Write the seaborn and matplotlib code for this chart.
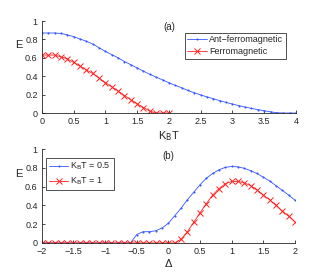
import numpy as np
import pandas as pd
import seaborn as sns
import matplotlib.pyplot as plt

# (a) E vs K_B T
kt = np.round(np.arange(0, 4.01, 0.1), 1)
e_af = [0.87, 0.87, 0.87, 0.865, 0.85, 0.83, 0.805, 0.78, 0.75, 0.71,
        0.67, 0.635, 0.60, 0.56, 0.525, 0.49, 0.455, 0.42, 0.39, 0.36,
        0.33, 0.30, 0.275, 0.245, 0.22, 0.197, 0.175, 0.155, 0.135, 0.115,
        0.098, 0.08, 0.065, 0.05, 0.037, 0.025, 0.013, 0.003, 0.0, 0.0, 0.0]
kt_f = np.round(np.arange(0, 2.01, 0.1), 1)
e_f = [0.63, 0.63, 0.63, 0.61, 0.59, 0.55, 0.51, 0.47, 0.43, 0.38,
       0.33, 0.285, 0.24, 0.19, 0.145, 0.10, 0.06, 0.02, 0.0, 0.0, 0.0]

# (b) E vs Delta
delta = np.round(np.arange(-2, 2.01, 0.1), 1)
e_05 = [0]*15 + [0.09, 0.12, 0.12, 0.13, 0.16, 0.21, 0.29, 0.37, 0.46,
                 0.54, 0.62, 0.69, 0.74, 0.78, 0.805, 0.815, 0.81, 0.795, 0.77,
                 0.74, 0.70, 0.66, 0.61, 0.56, 0.51, 0.455]
e_1 = [0]*22 + [0.04, 0.12, 0.22, 0.32, 0.42, 0.51, 0.58, 0.63, 0.655,
                0.655, 0.64, 0.61, 0.565, 0.51, 0.46, 0.40, 0.34, 0.285, 0.225]

sns.set_style("ticks")
plt.rcParams['font.family'] = ['Liberation Sans', 'DejaVu Sans']
plt.rcParams['xtick.direction'] = 'in'
plt.rcParams['ytick.direction'] = 'in'

BLUE = '#3355ff'
RED = '#ff2222'
blue_kw = dict(color=BLUE, marker='.', markersize=3, linewidth=0.6,
               markeredgewidth=0, markerfacecolor=BLUE)
red_kw = dict(color=RED, marker='x', markersize=4, linewidth=0.6,
              markeredgewidth=0.7, markeredgecolor=RED)

fig = plt.figure(figsize=(3.27, 2.73), dpi=100)
ax1 = fig.add_axes([0.128, 0.586, 0.777, 0.337])
ax2 = fig.add_axes([0.128, 0.110, 0.774, 0.344])

sns.lineplot(x=kt, y=e_af, ax=ax1, label='Ant\u2212ferromagnetic', **blue_kw)
sns.lineplot(x=kt_f, y=e_f, ax=ax1, label='Ferromagnetic', **red_kw)
ax1.set_xlim(0, 4)
ax1.set_ylim(0, 1)
ax1.set_xticks(np.arange(0, 4.01, 0.5))
ax1.set_xticklabels(['0', '0.5', '1', '1.5', '2', '2.5', '3', '3.5', '4'])
ax1.set_yticks(np.arange(0, 1.01, 0.2))
ax1.set_yticklabels(['0', '0.2', '0.4', '0.6', '0.8', '1'])
ax1.set_xlabel(r'K$_\mathrm{B}$T', fontsize=8)
ax1.set_ylabel('E', fontsize=8, rotation=0)
ax1.yaxis.set_label_coords(-0.09, 0.68)
ax1.xaxis.set_label_coords(0.5, -0.18)
ax1.text(0.5, 0.94, '(a)', transform=ax1.transAxes, ha='center', va='center', fontsize=7)
leg1 = ax1.legend(loc='upper right', bbox_to_anchor=(0.96, 0.875), fontsize=6.5,
                  frameon=True, fancybox=False, borderpad=0.3, labelspacing=0.3,
                  handlelength=2.2, handletextpad=0.2, borderaxespad=0)
leg1.get_frame().set_edgecolor('black')
leg1.get_frame().set_linewidth(0.6)

sns.lineplot(x=delta, y=e_05, ax=ax2, label=r'K$_\mathrm{B}$T = 0.5', **blue_kw)
sns.lineplot(x=delta, y=e_1, ax=ax2, label=r'K$_\mathrm{B}$T = 1', **red_kw)
ax2.set_xlim(-2, 2)
ax2.set_ylim(0, 1)
ax2.set_xticks(np.arange(-2, 2.01, 0.5))
ax2.set_xticklabels(['\u22122', '\u22121.5', '\u22121', '\u22120.5', '0', '0.5', '1', '1.5', '2'])
ax2.set_yticks(np.arange(0, 1.01, 0.2))
ax2.set_yticklabels(['0', '0.2', '0.4', '0.6', '0.8', '1'])
ax2.set_xlabel('\u0394', fontsize=8)
ax2.set_ylabel('E', fontsize=8, rotation=0)
ax2.yaxis.set_label_coords(-0.09, 0.68)
ax2.xaxis.set_label_coords(0.5, -0.17)
ax2.text(0.5, 0.93, '(b)', transform=ax2.transAxes, ha='center', va='center', fontsize=7)
leg2 = ax2.legend(loc='upper left', bbox_to_anchor=(0.016, 0.905), fontsize=6.5,
                  frameon=True, fancybox=False, borderpad=0.3, labelspacing=0.4,
                  handlelength=2.2, handletextpad=0.2, borderaxespad=0)
leg2.get_frame().set_edgecolor('black')
leg2.get_frame().set_linewidth(0.6)

for ax in (ax1, ax2):
    sns.despine(ax=ax)
    ax.tick_params(labelsize=6.5, length=2, width=0.6)
    ax.tick_params(axis='y', pad=3)
    ax.tick_params(axis='x', pad=3)
    for s in ax.spines.values():
        s.set_linewidth(0.6)

fig.savefig('out.png', dpi=100)
